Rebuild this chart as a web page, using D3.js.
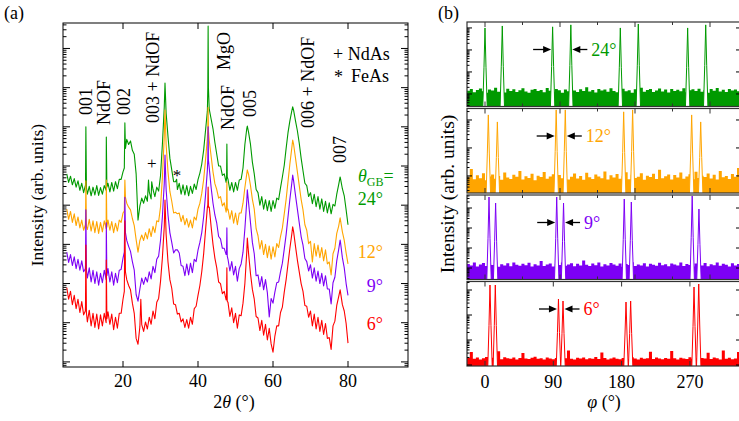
<!DOCTYPE html>
<html>
<head>
<meta charset="utf-8">
<script src="https://cdn.jsdelivr.net/npm/d3@7/dist/d3.min.js"></script>
<style>
  html,body{margin:0;padding:0;background:#fff;}
  svg{display:block;}
</style>
</head>
<body>
<svg id="fig" width="739" height="421" style="font-family:'Liberation Serif','DejaVu Serif',serif"></svg>
<script>
// ================= (a) 2θ scans =================
// sampling grid in degrees
const twoTheta = [
  5,5.5,6,6.5,7,7.5,8,8.5,9,9.5,
  10,10.5,11,11.5,12,12.5,13,13.5,14,14.5,
  15,15.5,16,16.5,17,17.5,18,18.5,19,19.5,
  20,20.5,21,21.5,22,22.5,23,23.5,24,24.5,
  25,25.5,26,26.5,27,27.5,28,28.5,29,29.5,
  30,30.5,31,31.5,32,32.5,33,33.5,34,34.5,
  35,35.5,36,36.5,37,37.5,38,38.5,39,39.5,
  40,40.5,41,41.5,42,42.5,43,43.5,44,44.5,
  45,45.5,46,46.5,47,47.5,48,48.5,49,49.5,
  50,50.5,51,51.5,52,52.5,53,53.5,54,54.5,
  55,55.5,56,56.5,57,57.5,58,58.5,59,59.5,
  60,60.5,61,61.5,62,62.5,63,63.5,64,64.5,
  65,65.5,66,66.5,67,67.5,68,68.5,69,69.5,
  70,70.5,71,71.5,72,72.5,73,73.5,74,74.5,
  75,75.5,76,76.5,77,77.5,78,78.5,79,79.5,
  80
];
// log10 intensity (arb. units, each curve offset) on the grid
const logI24 = [
  4.80,4.58,4.74,4.52,4.68,4.46,4.62,4.38,4.56,4.32,
  4.50,4.28,4.48,4.24,4.46,4.26,4.50,4.25,4.45,4.28,
  4.50,4.38,4.56,4.34,4.58,4.36,4.60,4.42,4.66,4.66,
  4.85,6.10,5.68,5.55,5.64,5.40,5.30,4.80,3.62,3.98,
  4.18,4.05,4.24,4.10,4.34,4.16,4.40,4.22,4.46,4.36,
  4.75,5.55,6.50,6.35,5.75,5.20,4.90,4.60,4.60,4.40,
  4.56,4.28,4.52,4.26,4.50,4.24,4.48,4.30,4.54,4.40,
  4.65,4.82,5.05,5.40,5.90,6.40,6.45,6.20,5.95,5.60,
  5.30,5.00,5.00,4.76,4.80,4.58,4.66,4.38,4.58,4.34,
  4.58,4.38,4.64,4.66,4.95,5.55,5.95,5.85,5.55,5.10,
  4.80,4.40,4.32,4.00,4.22,3.90,4.14,3.86,4.12,3.84,
  4.12,3.92,4.18,4.14,4.44,4.72,5.02,5.45,5.85,6.15,
  6.40,6.42,6.15,5.90,5.58,5.20,4.88,4.56,4.50,4.22,
  4.32,4.04,4.28,3.96,4.22,3.90,4.16,3.84,4.10,3.80,
  4.06,3.78,4.02,3.98,4.28,4.52,4.68,4.42,4.24,3.88,
  3.50
];
const logI12 = [
  3.90,3.64,3.84,3.56,3.78,3.48,3.70,3.42,3.62,3.36,
  3.62,3.38,3.64,3.34,3.60,3.30,3.58,3.28,3.56,3.32,
  3.60,3.40,3.62,3.36,3.58,3.30,3.54,3.34,3.62,3.56,
  3.80,4.64,4.05,3.95,3.88,3.66,3.48,3.12,2.80,3.10,
  3.24,3.10,3.30,3.14,3.40,3.20,3.46,3.30,3.60,3.58,
  3.95,4.70,5.75,5.55,4.85,4.35,4.10,3.80,3.82,3.78,
  3.80,3.58,3.74,3.50,3.66,3.44,3.62,3.42,3.70,3.62,
  3.90,4.05,4.30,4.65,5.15,5.70,5.65,5.25,4.85,4.55,
  4.40,4.18,4.22,3.98,4.06,3.82,3.90,3.64,3.86,3.54,
  3.80,3.50,3.80,3.80,4.05,4.45,4.80,4.78,4.50,4.15,
  3.90,3.40,3.22,2.88,3.10,2.74,3.00,2.66,2.96,2.62,
  2.94,2.68,3.02,2.92,3.20,3.42,3.78,4.15,4.60,5.05,
  5.45,5.55,5.20,4.85,4.50,4.15,3.88,3.50,3.36,3.02,
  3.08,2.55,3.02,2.70,2.98,2.66,2.92,2.58,2.86,2.50,
  2.55,2.22,2.76,2.90,3.28,3.46,3.62,3.32,3.10,2.78,
  2.50
];
const logI9 = [
  2.80,2.54,2.74,2.46,2.68,2.38,2.62,2.34,2.58,2.30,
  2.48,2.14,2.40,2.04,2.34,2.00,2.30,1.96,2.26,2.02,
  2.34,2.10,2.38,2.04,2.30,1.96,2.26,2.02,2.34,2.36,
  2.65,4.20,3.10,2.95,2.82,2.56,2.34,1.72,1.55,1.86,
  2.14,1.98,2.16,2.04,2.30,2.12,2.44,2.28,2.62,2.70,
  3.10,3.70,4.55,4.40,3.75,3.30,3.05,2.78,2.86,2.86,
  2.78,2.46,2.44,2.20,2.50,2.22,2.52,2.28,2.62,2.56,
  2.85,3.05,3.30,3.70,4.25,4.90,4.95,4.45,4.05,3.75,
  3.54,3.20,3.14,2.90,2.90,2.74,2.62,2.32,2.56,2.22,
  2.44,2.06,2.38,2.50,2.80,3.40,4.10,4.05,3.55,3.05,
  2.76,2.20,2.22,1.92,2.18,1.84,2.10,1.76,1.15,1.62,
  1.50,1.78,2.02,2.04,2.30,2.52,2.88,3.25,3.70,4.15,
  4.55,4.62,4.25,3.90,3.55,3.20,2.98,2.64,2.56,2.32,
  2.48,2.14,2.40,2.06,2.32,2.00,2.26,1.94,2.20,1.86,
  1.86,1.48,2.02,2.16,2.58,2.86,3.05,2.66,2.40,2.00,
  1.70
];
const logI6 = [
  1.90,1.60,1.80,1.46,1.70,1.36,1.60,1.26,1.54,1.20,
  1.44,1.02,1.32,0.92,1.24,0.88,1.22,0.84,1.20,0.92,
  1.24,1.00,1.28,0.96,1.22,0.82,1.14,0.86,1.24,1.24,
  1.60,3.60,2.10,1.95,1.84,1.50,1.24,0.60,0.45,0.90,
  0.95,0.78,1.02,0.84,1.14,0.96,1.30,1.10,1.52,1.62,
  2.05,2.65,3.45,3.25,2.55,2.10,1.88,1.48,1.46,1.22,
  1.24,1.02,1.10,0.88,1.08,0.86,1.14,0.96,1.36,1.42,
  1.70,1.95,2.30,2.75,3.35,3.95,3.95,3.45,3.00,2.65,
  2.40,2.04,2.00,1.74,1.80,1.58,1.52,1.16,1.38,1.00,
  1.24,0.86,1.20,1.18,1.50,2.00,2.80,2.75,2.25,1.85,
  1.60,1.16,1.12,0.80,1.06,0.68,0.96,0.56,0.86,0.46,
  0.25,0.66,0.92,0.92,1.26,1.40,1.78,2.10,2.50,2.90,
  3.25,3.32,2.95,2.60,2.30,2.00,1.80,1.44,1.42,1.14,
  1.30,0.92,1.22,0.84,1.14,0.78,1.06,0.70,0.98,0.60,
  0.62,0.32,0.92,1.04,1.44,1.66,1.78,1.46,1.30,0.98,
  0.48
];
// sharp reflection tips [2θ, log10 I] between grid points
const tips24 = [[9.95,4.5],[10.1,6.0],[10.25,4.45],[15.55,5.74],[15.7,4.46],[20.35,4.95],[20.65,5.45],
  [26.8,4.64],[27.65,4.6],[31.2,7.12],[34.3,4.66],[42.62,7.0],[42.7,8.57],[42.78,7.0],
  [47.62,4.7],[47.7,5.56],[47.8,4.72],[53.15,6.02],[65.25,6.51],[77.9,4.72]];
const tips12 = [[9.95,3.5],[10.1,4.62],[10.25,3.45],[15.55,4.64],[15.7,3.44],[20.35,3.85],[20.65,4.2],
  [31.2,6.43],[42.62,6.0],[42.7,6.5],[42.78,5.9],[47.62,3.95],[47.7,4.6],[47.8,3.88],
  [53.15,4.9],[65.25,5.66],[77.9,3.68]];
const tips9 = [[9.95,2.38],[10.1,3.88],[10.25,2.35],[15.55,3.55],[15.7,2.2],[20.35,2.8],[20.65,3.3],
  [31.2,5.28],[42.62,5.2],[42.7,6.0],[42.78,5.15],[47.62,2.8],[47.7,3.42],[47.8,2.7],
  [53.15,4.39],[65.25,4.77],[77.9,3.11]];
const tips6 = [[9.95,1.3],[10.1,2.98],[10.25,1.25],[15.55,2.6],[15.7,1.1],[20.35,1.8],[20.65,2.3],
  [24.75,1.6],[31.2,4.13],[42.62,4.0],[42.7,4.46],[42.78,3.95],[47.62,1.7],[47.7,2.4],[47.8,1.55],
  [53.15,3.16],[65.25,3.45],[77.9,1.84]];

const gbAngles = ["24°","12°","9°","6°"];
const ticks2Theta = [20,40,60,80];
const reflectionNames = ["001","NdOF","002","003 + NdOF","MgO","NdOF","005","006 + NdOF","007"];
const reflectionAt = [10.1,14.9,20.3,28.0,46.9,48.0,53.9,69.3,77.9];
const impurityMarks = [["+",27.65],["*",34.4]];

// ================= (b) φ scans =================
const phiGrid = [
  -24,-20,-16,-12,-8,-4,0,4,8,12,16,20,24,28,32,36,40,44,48,52,
  56,60,64,68,72,76,80,84,88,92,96,100,104,108,112,116,120,124,128,132,
  136,140,144,148,152,156,160,164,168,172,176,180,184,188,192,196,200,204,208,212,
  216,220,224,228,232,236,240,244,248,252,256,260,264,268,272,276,280,284,288,292,
  296,300,304,308,312,316,320,324,328,332,336
];
// background level, log10 counts
const bg24 = [
  1.15,1.22,1.08,1.18,1.25,1.12,1.05,1.20,1.16,1.28,
  1.10,1.19,1.07,1.24,1.14,1.21,1.09,1.17,1.26,1.11,
  1.06,1.19,1.23,1.13,1.18,1.08,1.27,1.15,1.10,1.22,
  1.17,1.05,1.20,1.12,1.25,1.16,1.09,1.21,1.14,1.30,
  1.11,1.18,1.07,1.23,1.16,1.20,1.10,1.26,1.13,1.08,
  1.19,1.24,1.12,1.17,1.06,1.21,1.15,1.28,1.10,1.18,
  1.22,1.09,1.16,1.25,1.11,1.20,1.07,1.23,1.14,1.19,
  1.12,1.26,1.08,1.17,1.21,1.13,1.24,1.10,1.18,1.06,
  1.22,1.15,1.27,1.11,1.19,1.09,1.23,1.16,1.20,1.12,
  1.25
];
const bg12 = [
  0.95,1.25,0.88,1.02,0.92,1.10,0.85,0.98,1.05,0.90,
  1.00,0.86,1.12,0.94,0.89,1.04,0.97,1.18,0.87,0.99,
  0.93,1.08,0.85,1.01,0.96,1.14,0.90,0.98,1.06,0.88,
  1.03,0.92,1.20,0.87,0.97,1.09,0.91,1.00,0.86,1.11,
  0.95,0.89,1.05,0.98,0.92,1.16,0.87,1.02,0.94,1.07,
  0.90,0.99,1.13,0.88,1.04,0.93,0.97,1.10,0.86,1.01,
  0.96,1.08,0.89,1.22,0.92,0.99,1.05,0.87,1.03,0.94,
  1.12,0.90,0.98,1.06,0.88,1.15,0.93,1.01,0.96,1.09,
  0.91,1.04,0.87,1.18,0.95,1.00,0.89,1.07,0.97,1.28,
  1.02
];
const bg9 = [
  1.20,1.12,1.28,1.08,1.18,1.25,1.10,1.22,1.15,1.30,
  1.06,1.19,1.13,1.24,1.09,1.27,1.16,1.11,1.21,1.14,
  1.26,1.08,1.19,1.12,1.35,1.10,1.17,1.23,1.07,1.20,
  1.15,1.28,1.11,1.18,1.24,1.09,1.21,1.13,1.38,1.16,
  1.10,1.22,1.14,1.27,1.08,1.19,1.12,1.25,1.17,1.11,
  1.23,1.06,1.20,1.15,1.29,1.10,1.18,1.13,1.24,1.08,
  1.21,1.16,1.11,1.26,1.14,1.19,1.09,1.23,1.17,1.12,
  1.28,1.10,1.20,1.15,1.07,1.22,1.18,1.13,1.25,1.09,
  1.19,1.14,1.27,1.11,1.21,1.16,1.08,1.24,1.13,1.20,
  1.18
];
const bg6 = [
  0.28,0.52,0.25,0.30,0.22,0.27,0.32,0.24,0.29,0.26,
  0.55,0.23,0.31,0.27,0.25,0.30,0.22,0.28,0.48,0.26,
  0.24,0.29,0.33,0.25,0.27,0.22,0.30,0.26,0.23,0.28,
  0.31,0.24,0.27,0.58,0.25,0.22,0.29,0.26,0.30,0.23,
  0.27,0.25,0.32,0.24,0.50,0.28,0.22,0.26,0.30,0.25,
  0.23,0.28,0.27,0.24,0.31,0.26,0.22,0.29,0.25,0.27,
  0.53,0.24,0.30,0.26,0.23,0.28,0.25,0.56,0.27,0.22,
  0.29,0.26,0.24,0.31,0.25,0.27,0.23,0.28,0.26,0.49,
  0.24,0.30,0.27,0.22,0.58,0.25,0.29,0.23,0.26,0.52,
  0.28
];
// grain reflections [φ, log10 counts]
const peaks24 = [[0,4.0],[22.8,4.09],[89.1,4.05],[113.1,4.14],[178.3,4.0],[202,4.18],[267,4.0],[290.8,4.14]];
const peaks12 = [[4.4,3.18],[16.3,2.93],[93.8,3.36],[105.8,3.36],[182.7,3.29],[194.5,3.36],[272.3,3.18],[284.2,2.93]];
const peaks9  = [[5.3,4.55],[14,4.25],[94.5,4.55],[103.5,4.25],[183.5,4.45],[192.8,4.3],[273,4.6],[281.9,3.95]];
const peaks6  = [[6.6,3.2],[13.6,3.2],[96.8,2.64],[102.8,2.56],[185.8,2.52],[191.9,2.56],[275.4,3.12],[281.6,3.24]];
const ticksPhi = [0,90,180,270];

// ================= drawing =================
const COL = ["#009a00","#ffa500","#7d00f5","#ff0000"];
const svg = d3.select("#fig");

function logTicks(lo, hi){
  const out = [];
  for (let d = Math.floor(lo); d <= Math.ceil(hi); d++){
    for (let k = 1; k <= 9; k++){
      const v = d + Math.log10(k);
      if (v >= lo && v <= hi) out.push({v, major: k === 1});
    }
  }
  return out;
}

// ---------- panel (a) ----------
const A = {l:63, r:408, t:23, b:367};
const yDomA = [-0.13, 8.65];
const xA = d3.scaleLinear().domain([4,96]).range([A.l, A.r]);
const yA = d3.scaleLog().domain([10**yDomA[0], 10**yDomA[1]]).range([A.b, A.t]);

const defs = svg.append("defs");
defs.append("clipPath").attr("id","clipA")
  .append("rect").attr("x",A.l).attr("y",A.t).attr("width",A.r-A.l).attr("height",A.b-A.t);

const gA = svg.append("g");
const curves = [
  {grid:logI24, tips:tips24, color:COL[0]},
  {grid:logI12, tips:tips12, color:COL[1]},
  {grid:logI9,  tips:tips9,  color:COL[2]},
  {grid:logI6,  tips:tips6,  color:COL[3]}
];
const lineA = d3.line().x(d => xA(d[0])).y(d => yA(10**d[1]));
const gCurves = gA.append("g").attr("clip-path","url(#clipA)");
curves.forEach(c => {
  const pts = d3.zip(twoTheta, c.grid).concat(c.tips).sort((p,q) => p[0]-q[0]);
  gCurves.append("path").datum(pts).attr("d", lineA)
    .attr("fill","none").attr("stroke",c.color).attr("stroke-width",1.1)
    .attr("stroke-linejoin","round");
});

// frame and ticks
gA.append("rect").attr("x",A.l).attr("y",A.t).attr("width",A.r-A.l).attr("height",A.b-A.t)
  .attr("fill","none").attr("stroke","#000").attr("stroke-width",1);
logTicks(yDomA[0], yDomA[1]).forEach(t => {
  const y = yA(10**t.v), len = t.major ? 7 : 3.5;
  gA.append("line").attr("x1",A.l).attr("x2",A.l+len).attr("y1",y).attr("y2",y).attr("stroke","#000");
  gA.append("line").attr("x1",A.r).attr("x2",A.r-len).attr("y1",y).attr("y2",y).attr("stroke","#000");
});
ticks2Theta.forEach(v => {
  const x = xA(v);
  gA.append("line").attr("x1",x).attr("x2",x).attr("y1",A.b).attr("y2",A.b-6).attr("stroke","#000");
  gA.append("line").attr("x1",x).attr("x2",x).attr("y1",A.t).attr("y2",A.t+6).attr("stroke","#000");
  gA.append("text").attr("x",x).attr("y",387).attr("text-anchor","middle")
    .attr("font-size",18).text(v);
});
gA.append("text").attr("x",234).attr("y",408).attr("text-anchor","middle").attr("font-size",18)
  .html('2<tspan font-style="italic">θ</tspan> (°)');
gA.append("text").attr("transform","translate(37,195) rotate(-90)").attr("text-anchor","middle")
  .attr("dy","0.33em").attr("font-size",17.5).text("Intensity (arb. units)");
svg.append("text").attr("x",4).attr("y",19).attr("font-size",18).text("(a)");

// reflection labels
const reflBottom = [115,125,115,123,70,130,117,128,163];
reflectionNames.forEach((name,i) => {
  gA.append("text").attr("transform",`translate(${xA(reflectionAt[i])},${reflBottom[i]}) rotate(-90)`)
    .attr("dy","0.33em").attr("font-size",18).text(name);
});
// impurity markers
const markY = [169, 181];
impurityMarks.forEach(([m,pos],i) => {
  gA.append("text").attr("x",xA(pos)).attr("y",markY[i]).attr("text-anchor","middle")
    .attr("font-size",17).text(m);
});
// impurity key
gA.append("text").attr("x",333).attr("y",60).attr("font-size",18).text("+ NdAs");
gA.append("text").attr("x",334).attr("y",83).attr("font-size",18).text("*");
gA.append("text").attr("x",351).attr("y",82).attr("font-size",18).text("FeAs");
// grain boundary angle key
gA.append("text").attr("x",358).attr("y",182).attr("font-size",18).attr("fill",COL[0])
  .html('<tspan font-style="italic">θ</tspan><tspan font-size="12" dy="4">GB</tspan><tspan dy="-4">=</tspan>');
const gbY = [205,258,292,330];
gbAngles.forEach((s,i) => {
  gA.append("text").attr("x",383).attr("y",gbY[i]).attr("text-anchor","end")
    .attr("font-size",18).attr("fill",COL[i]).text(s);
});

// ---------- panel (b) ----------
const B = {l:467, r:741, t:22, pitch:86.5, h:84.5};
const xB  = d3.scaleLinear().domain([-23.7,337.3]).range([B.l, B.r]);
const xBt = d3.scaleLinear().domain([-21.6,307.2]).range([B.l, B.r]);
const panelsB = [
  {bg:bg24, peaks:peaks24, pair:[2,3], dom:[0.43,4.27], tickScale:xBt, tickVals:[0,45,90,135,180,225,270]},
  {bg:bg12, peaks:peaks12, pair:[2,3], dom:[0.39,3.41], tickScale:xBt, tickVals:[0,45,90,135,180,225,270]},
  {bg:bg9,  peaks:peaks9,  pair:[2,3], dom:[0.425,4.65], tickScale:xBt, tickVals:[0,45,90,135,180,225,270]},
  {bg:bg6,  peaks:peaks6,  pair:[2,3], dom:[-0.04,3.34], tickScale:xB, tickVals:ticksPhi}
];
panelsB.forEach((p,i) => {
  const top = B.t + i*B.pitch, bot = top + B.h;
  const color = COL[i];
  const yB = d3.scaleLog().domain([10**p.dom[0], 10**p.dom[1]]).range([bot, top]);
  defs.append("clipPath").attr("id","clipB"+i).append("rect")
    .attr("x",B.l).attr("y",top).attr("width",B.r-B.l).attr("height",B.h);
  const g = svg.append("g");
  const gc = g.append("g").attr("clip-path",`url(#clipB${i})`);
  // background counts
  const area = d3.area().x(d => xB(d[0])).y0(bot).y1(d => yB(10**d[1])).curve(d3.curveStepAfter);
  gc.append("path").datum(d3.zip(phiGrid, p.bg)).attr("d",area).attr("fill",color);
  // reflections
  p.peaks.forEach(([phi,v]) => {
    const x = xB(phi), yt = yB(10**v), ym = bot + (yt-bot)*0.5;
    gc.append("path")
      .attr("d",`M${x-2.2},${bot}L${x-1},${ym}L${x},${yt}L${x+1},${ym}L${x+2.2},${bot}`)
      .attr("fill","#fff").attr("stroke",color).attr("stroke-width",1).attr("stroke-linejoin","round");
  });
  // frame
  g.append("rect").attr("x",B.l).attr("y",top).attr("width",B.r-B.l).attr("height",B.h)
    .attr("fill","none").attr("stroke","#333").attr("stroke-width",1.2);
  logTicks(p.dom[0], p.dom[1]).forEach(t => {
    const y = yB(10**t.v);
    g.append("line").attr("x1",B.l).attr("x2",B.l+(t.major?5:2.5)).attr("y1",y).attr("y2",y).attr("stroke","#000");
    if (t.major) g.append("line").attr("x1",B.r).attr("x2",B.r-5).attr("y1",y).attr("y2",y).attr("stroke","#000");
  });
  p.tickVals.forEach(v => {
    const x = p.tickScale(v), len = (v % 90 === 0) ? 5 : 3;
    g.append("line").attr("x1",x).attr("x2",x).attr("y1",top).attr("y2",top+len).attr("stroke","#333");
    g.append("line").attr("x1",x).attr("x2",x).attr("y1",bot).attr("y2",bot-len).attr("stroke","#333");
  });
  // splitting arrows
  const ay = top + 27.5;
  const xl = xB(p.peaks[p.pair[0]][0]) - 1.5, xr = xB(p.peaks[p.pair[1]][0]) + 1.5;
  const arrow = (tip, dir, len) => {
    g.append("line").attr("x1",tip - dir*len).attr("x2",tip - dir*7).attr("y1",ay).attr("y2",ay)
      .attr("stroke","#000").attr("stroke-width",1.3);
    g.append("path").attr("d",`M${tip},${ay}L${tip-dir*8},${ay-3.5}L${tip-dir*8},${ay+3.5}Z`).attr("fill","#000");
  };
  arrow(xl, 1, 18);
  arrow(xr, -1, 15);
  g.append("text").attr("x",xr+19).attr("y",ay).attr("dy","0.35em").attr("font-size",18)
    .attr("fill",color).text(gbAngles[i]);
});
// φ axis labels
const redBot = B.t + 3*B.pitch + B.h;
ticksPhi.forEach(v => {
  svg.append("text").attr("x",xB(v)).attr("y",388).attr("text-anchor","middle").attr("font-size",18).text(v);
});
svg.append("text").attr("x",604).attr("y",408).attr("text-anchor","middle").attr("font-size",18)
  .html('<tspan font-style="italic">φ</tspan> (°)');
svg.append("text").attr("transform",`translate(448,${(B.t+redBot)/2}) rotate(-90)`).attr("text-anchor","middle")
  .attr("dy","0.33em").attr("font-size",19.5).text("Intensity (arb. units)");
svg.append("text").attr("x",438).attr("y",19).attr("font-size",18).text("(b)");
</script>
</body>
</html>
